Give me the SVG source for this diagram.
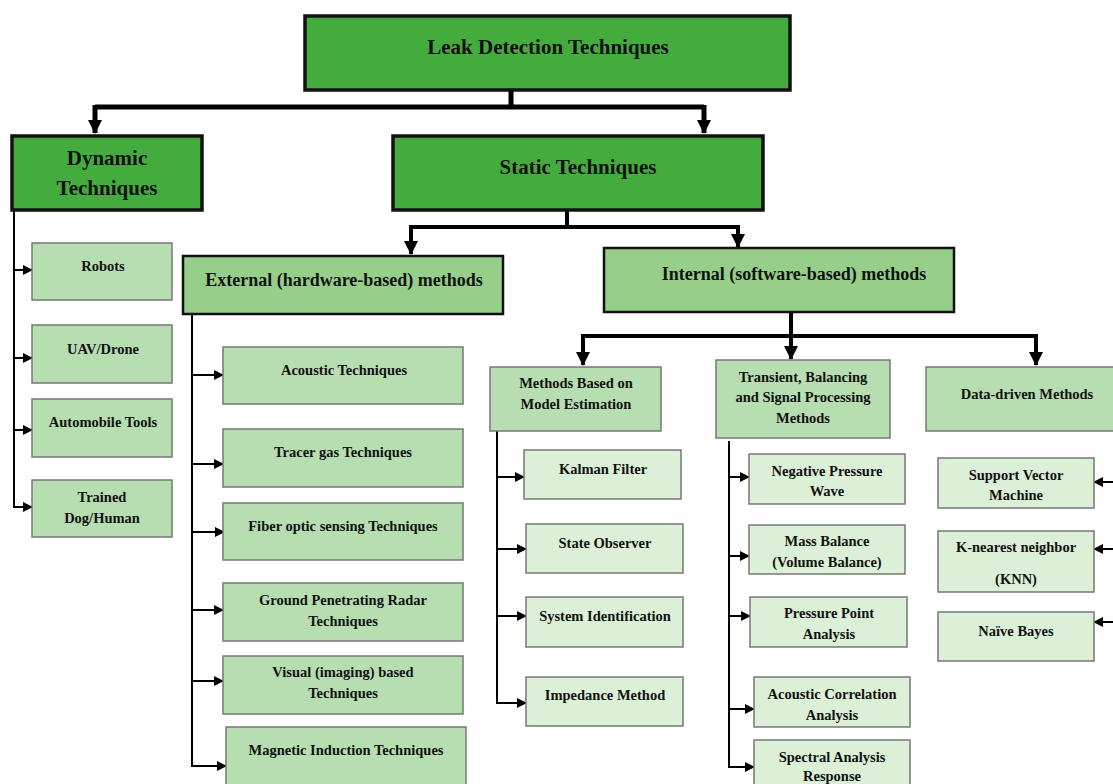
<svg xmlns="http://www.w3.org/2000/svg" width="1113" height="784" viewBox="0 0 1113 784">
<defs>
<marker id="big" markerUnits="userSpaceOnUse" markerWidth="14" markerHeight="16" refX="13" refY="7" orient="auto"><path d="M0,0 L14,7 L0,14 Z" fill="#000"/></marker>
<marker id="sm" markerUnits="userSpaceOnUse" markerWidth="10" markerHeight="10" refX="9" refY="5" orient="auto"><path d="M0,0 L10,5 L0,10 Z" fill="#000"/></marker>
</defs>
<style>
text{font-family:"Liberation Serif","Times New Roman",serif;font-weight:bold;fill:#111;text-anchor:middle}
.l1{fill:#43ac3c;stroke:#111;stroke-width:3.5}
.l2{fill:#95cf8a;stroke:#111;stroke-width:2.5}
.l3{fill:#b7deb1;stroke:#777;stroke-width:1.5}
.l4{fill:#dcf0d7;stroke:#777;stroke-width:1.5}
.t1{font-size:21px}
.t2{font-size:18px}
.t3{font-size:14.5px}
.c{fill:none;stroke:#000}
.thick{stroke-width:5}
.med{stroke-width:4}
.thin{stroke-width:2}
</style>
<g id="connectors">
<path class="c thick" d="M511,90 V107"/>
<path class="c thick" d="M95,107 H704"/>
<path class="c thick" d="M95,105 V133" marker-end="url(#big)"/>
<path class="c thick" d="M704,105 V133" marker-end="url(#big)"/>
<path class="c med" d="M567,210 V227"/>
<path class="c med" d="M411,227 H738"/>
<path class="c med" d="M411,225 V254" marker-end="url(#big)"/>
<path class="c med" d="M738,225 V247" marker-end="url(#big)"/>
<path class="c med" d="M791,312 V336"/>
<path class="c med" d="M583,336 H1036"/>
<path class="c med" d="M583,334 V365" marker-end="url(#big)"/>
<path class="c med" d="M791,334 V359" marker-end="url(#big)"/>
<path class="c med" d="M1036,334 V365" marker-end="url(#big)"/>
<path class="c thin" d="M14,210 V507"/>
<path class="c thin" d="M13,270 H32" marker-end="url(#sm)"/>
<path class="c thin" d="M13,358 H32" marker-end="url(#sm)"/>
<path class="c thin" d="M13,430 H32" marker-end="url(#sm)"/>
<path class="c thin" d="M13,507 H32" marker-end="url(#sm)"/>
<path class="c thin" d="M192,314 V766"/>
<path class="c thin" d="M191,375 H223" marker-end="url(#sm)"/>
<path class="c thin" d="M191,464 H223" marker-end="url(#sm)"/>
<path class="c thin" d="M191,532 H224" marker-end="url(#sm)"/>
<path class="c thin" d="M191,610 H223" marker-end="url(#sm)"/>
<path class="c thin" d="M191,681 H223" marker-end="url(#sm)"/>
<path class="c thin" d="M191,766 H226" marker-end="url(#sm)"/>
<path class="c thin" d="M497,431 V703"/>
<path class="c thin" d="M496,477 H524" marker-end="url(#sm)"/>
<path class="c thin" d="M496,549 H526" marker-end="url(#sm)"/>
<path class="c thin" d="M496,616 H526" marker-end="url(#sm)"/>
<path class="c thin" d="M496,703 H526" marker-end="url(#sm)"/>
<path class="c thin" d="M729,441 V767"/>
<path class="c thin" d="M728,477 H749" marker-end="url(#sm)"/>
<path class="c thin" d="M728,556 H749" marker-end="url(#sm)"/>
<path class="c thin" d="M728,616 H750" marker-end="url(#sm)"/>
<path class="c thin" d="M728,709 H754" marker-end="url(#sm)"/>
<path class="c thin" d="M728,767 H754" marker-end="url(#sm)"/>
<path class="c thin" d="M1113,482 H1094" marker-end="url(#sm)"/>
<path class="c thin" d="M1113,549 H1094" marker-end="url(#sm)"/>
<path class="c thin" d="M1113,622 H1094" marker-end="url(#sm)"/>
</g>
<g id="leak"><rect class="l1" x="305" y="16" width="485" height="74"/><text class="t1" x="548" y="54">Leak Detection Techniques</text></g>
<g id="dynamic"><rect class="l1" x="12" y="136" width="190" height="74"/><text class="t1" x="107" y="165">Dynamic</text><text class="t1" x="107" y="195">Techniques</text></g>
<g id="static"><rect class="l1" x="393" y="136" width="370" height="74"/><text class="t1" x="578" y="174">Static Techniques</text></g>
<g id="external"><rect class="l2" x="183" y="256" width="320" height="58"/><text class="t2" x="344" y="286">External (hardware-based) methods</text></g>
<g id="internal"><rect class="l2" x="604" y="248" width="350" height="64"/><text class="t2" x="794" y="280">Internal (software-based) methods</text></g>
<g id="robots"><rect class="l3" x="32" y="243" width="140" height="57"/><text class="t3" x="103" y="271">Robots</text></g>
<g id="uav"><rect class="l3" x="32" y="325" width="140" height="58"/><text class="t3" x="103" y="354">UAV/Drone</text></g>
<g id="automobile"><rect class="l3" x="32" y="399" width="140" height="58"/><text class="t3" x="103" y="427">Automobile Tools</text></g>
<g id="dog"><rect class="l3" x="32" y="480" width="140" height="57"/><text class="t3" x="102" y="502">Trained</text><text class="t3" x="102" y="523">Dog/Human</text></g>
<g id="acoustic"><rect class="l3" x="223" y="347" width="240" height="57"/><text class="t3" x="344" y="375">Acoustic Techniques</text></g>
<g id="tracer"><rect class="l3" x="223" y="429" width="240" height="58"/><text class="t3" x="343" y="457">Tracer gas Techniques</text></g>
<g id="fiber"><rect class="l3" x="223" y="503" width="240" height="57"/><text class="t3" x="343" y="531">Fiber optic sensing Techniques</text></g>
<g id="gpr"><rect class="l3" x="223" y="583" width="240" height="58"/><text class="t3" x="343" y="605">Ground Penetrating Radar</text><text class="t3" x="343" y="626">Techniques</text></g>
<g id="visual"><rect class="l3" x="223" y="656" width="240" height="58"/><text class="t3" x="343" y="677">Visual (imaging) based</text><text class="t3" x="343" y="698">Techniques</text></g>
<g id="magnetic"><rect class="l3" x="226" y="727" width="240" height="62"/><text class="t3" x="346" y="755">Magnetic Induction Techniques</text></g>
<g id="model"><rect class="l3" x="490" y="367" width="171" height="64"/><text class="t3" x="576" y="388">Methods Based on</text><text class="t3" x="576" y="409">Model Estimation</text></g>
<g id="transient"><rect class="l3" x="716" y="360" width="174" height="78"/><text class="t3" x="803" y="382">Transient, Balancing</text><text class="t3" x="803" y="402">and Signal Processing</text><text class="t3" x="803" y="423">Methods</text></g>
<g id="datadriven"><rect class="l3" x="926" y="367" width="202" height="64"/><text class="t3" x="1027" y="399">Data-driven Methods</text></g>
<g id="kalman"><rect class="l4" x="524" y="450" width="157" height="49"/><text class="t3" x="603" y="474">Kalman Filter</text></g>
<g id="observer"><rect class="l4" x="526" y="524" width="157" height="49"/><text class="t3" x="605" y="548">State Observer</text></g>
<g id="sysid"><rect class="l4" x="526" y="597" width="157" height="50"/><text class="t3" x="605" y="621">System Identification</text></g>
<g id="impedance"><rect class="l4" x="526" y="677" width="157" height="49"/><text class="t3" x="605" y="700">Impedance Method</text></g>
<g id="npw"><rect class="l4" x="749" y="454" width="156" height="50"/><text class="t3" x="827" y="476">Negative Pressure</text><text class="t3" x="827" y="496">Wave</text></g>
<g id="mass"><rect class="l4" x="749" y="525" width="156" height="49"/><text class="t3" x="827" y="546">Mass Balance</text><text class="t3" x="827" y="567">(Volume Balance)</text></g>
<g id="ppa"><rect class="l4" x="750" y="597" width="157" height="50"/><text class="t3" x="829" y="618">Pressure Point</text><text class="t3" x="829" y="639">Analysis</text></g>
<g id="acorr"><rect class="l4" x="754" y="677" width="156" height="50"/><text class="t3" x="832" y="699">Acoustic Correlation</text><text class="t3" x="832" y="720">Analysis</text></g>
<g id="spectral"><rect class="l4" x="754" y="740" width="156" height="50"/><text class="t3" x="832" y="762">Spectral Analysis</text><text class="t3" x="832" y="781">Response</text></g>
<g id="svm"><rect class="l4" x="938" y="458" width="156" height="50"/><text class="t3" x="1016" y="480">Support Vector</text><text class="t3" x="1016" y="500">Machine</text></g>
<g id="knn"><rect class="l4" x="938" y="531" width="156" height="61"/><text class="t3" x="1016" y="552">K-nearest neighbor</text><text class="t3" x="1016" y="584">(KNN)</text></g>
<g id="bayes"><rect class="l4" x="938" y="612" width="156" height="49"/><text class="t3" x="1016" y="636">Naïve Bayes</text></g>
</svg>
